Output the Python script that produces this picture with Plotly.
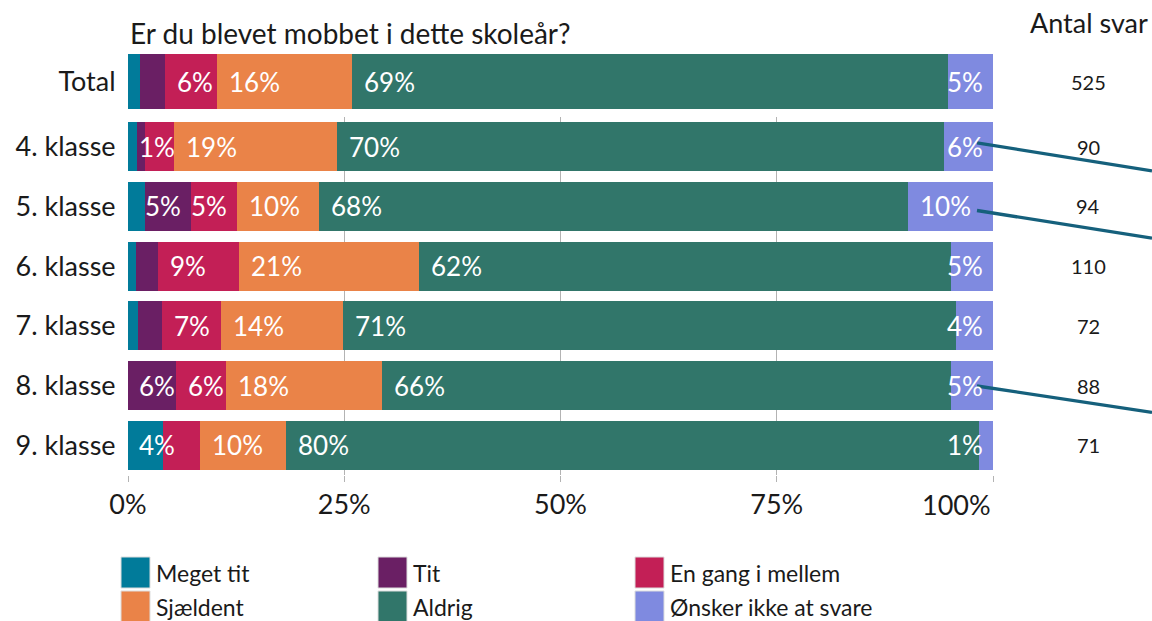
import plotly.graph_objects as go

# andele i procent, læst af figuren
categories = ["Total", "4. klasse", "5. klasse", "6. klasse", "7. klasse", "8. klasse", "9. klasse"]
meget_tit = [1.4, 1.0, 2.0, 0.9, 1.2, 0.0, 4.0]
tit = [2.9, 1.0, 5.3, 2.6, 2.7, 5.5, 0.0]
en_gang = [6.0, 3.3, 5.3, 9.3, 6.9, 5.8, 4.3]
sjaeldent = [15.6, 18.9, 9.5, 20.8, 14.1, 18.1, 10.0]
aldrig = [68.9, 70.1, 68.1, 61.6, 70.8, 65.8, 80.1]
onsker = [5.2, 5.7, 9.8, 4.8, 4.3, 4.8, 1.6]

# viste etiketter
lbl_meget_tit = ["", "", "", "", "", "", "4%"]
lbl_tit = ["", "", "5%", "", "", "6%", ""]
lbl_en_gang = ["6%", "1%", "5%", "9%", "7%", "6%", ""]
lbl_sjaeldent = ["16%", "19%", "10%", "21%", "14%", "18%", "10%"]
lbl_aldrig = ["69%", "70%", "68%", "62%", "71%", "66%", "80%"]
lbl_onsker = ["5%", "6%", "10%", "5%", "4%", "5%", "1%"]

antal_svar = [525, 90, 94, 110, 72, 88, 71]
callout_rows = ["4. klasse", "5. klasse", "8. klasse"]

x_ticks = [0, 25, 50, 75, 100]
x_ticktext = ["0%", "25%", "50%", "75%", "100%"]

series = [
    ("Meget tit", meget_tit, lbl_meget_tit, "#017b9a"),
    ("Tit", tit, lbl_tit, "#6a1f64"),
    ("En gang i mellem", en_gang, lbl_en_gang, "#c31f56"),
    ("Sjældent", sjaeldent, lbl_sjaeldent, "#ea8348"),
    ("Aldrig", aldrig, lbl_aldrig, "#31766a"),
    ("Ønsker ikke at svare", onsker, lbl_onsker, "#7f8ae0"),
]

W, H = 1152, 621
X0, X1 = 128, 993          # plot area in px
Y2_TOP, Y2_BOT = 117, 475  # klasse-panel in px
PX = (X1 - X0) / 100.0     # px per procentpoint
FONT = "Lato"
LBL_SIZE = 26
DARK = "#1a1a1a"

fig = go.Figure()

for name, vals, _, color in series:
    for sub, rows in (("", [0]), ("2", range(1, len(categories)))):
        fig.add_trace(go.Bar(
            y=[categories[i] for i in rows], x=[vals[i] for i in rows],
            orientation="h", name=name, marker_color=color, marker_line_width=0,
            xaxis="x" + sub, yaxis="y" + sub, showlegend=False, hoverinfo="skip",
        ))


def text_w(s):
    return 15.5 * (len(s) - 1) + 22


annotations = []
starts = [0.0] * len(categories)
for name, vals, labels, color in series:
    for i, cat in enumerate(categories):
        start, end = starts[i], starts[i] + vals[i]
        starts[i] = end
        end = min(round(end, 6), 100)
        lab = labels[i]
        if not lab:
            continue
        w = text_w(lab)
        s_px, e_px = start * PX, end * PX
        ref = "" if i == 0 else "2"
        a = dict(y=cat, xref="x" + ref, yref="y" + ref, yanchor="middle", text=lab,
                 showarrow=False, font=dict(family=FONT, size=LBL_SIZE, color="white"))
        if s_px + 10 + w <= e_px - 2:
            a.update(x=start, xanchor="left", xshift=10)
        elif e_px - 8 - w >= 8:
            a.update(x=end, xanchor="right", xshift=-8)
        else:
            a.update(x=0, xanchor="left", xshift=9)
        annotations.append(a)

# antal svar
annotations.append(dict(x=1089 / W, y=1 - 23 / H, xref="paper", yref="paper",
                        xanchor="center", yanchor="middle", text="Antal svar",
                        showarrow=False, font=dict(family=FONT, size=27, color=DARK)))
for i, cat in enumerate(categories):
    ref = "" if i == 0 else "2"
    annotations.append(dict(x=1088 / W, y=cat, xref="paper", yref="y" + ref,
                            xanchor="center", yanchor="middle", text=str(antal_svar[i]),
                            showarrow=False, font=dict(family=FONT, size=20, color=DARK)))

# titel
annotations.append(dict(x=X0 / W, y=1 - 33 / H, xref="paper", yref="paper",
                        xanchor="left", yanchor="middle",
                        text="Er du blevet mobbet i dette skoleår?",
                        showarrow=False, font=dict(family=FONT, size=28, color=DARK)))

# 100% tick label, right aligned at axis end
annotations.append(dict(x=100, y=1 - 505 / H, xref="x2", yref="paper", xanchor="right",
                        yanchor="middle", text=x_ticktext[-1], showarrow=False,
                        font=dict(family=FONT, size=27, color=DARK)))

# streger ud mod højre (fra etiketten og ud over kanten)
row_h = (Y2_BOT - Y2_TOP) / (len(categories) - 1)
for cat, off, dy in zip(callout_rows, [-4, 4, 0.5], [28, 27.6, 26.3]):
    yc = Y2_TOP + (categories.index(cat) - 0.5) * row_h + off
    fig.add_shape(type="line", xref="paper", yref="paper",
                  x0=(X1 - 16) / W, y0=1 - yc / H, x1=1.0, y1=1 - (yc + dy) / H,
                  line=dict(color="#15607c", width=3.3))

# forklaring
for k, (name, _, _, color) in enumerate(series):
    col, row = k % 3, k // 3
    lx = 121 + col * 257
    ly = 557 + row * 34
    fig.add_shape(type="rect", xref="paper", yref="paper",
                  x0=lx / W, x1=(lx + 29) / W, y0=1 - ly / H, y1=1 - (ly + 31) / H,
                  fillcolor=color, line=dict(color="#dddddd", width=1))
    annotations.append(dict(x=(lx + 33) / W, y=1 - (ly + 16) / H, xref="paper", yref="paper",
                            xanchor="left", yanchor="middle", text=name, showarrow=False,
                            font=dict(family=FONT, size=23, color=DARK)))

fig.update_layout(
    width=W, height=H, barmode="stack", bargap=0.178,
    margin=dict(l=0, r=0, t=0, b=0, autoexpand=False),
    plot_bgcolor="white", paper_bgcolor="white",
    font=dict(family=FONT, color=DARK),
    annotations=annotations,
    xaxis=dict(domain=[X0 / W, X1 / W], range=[0, 100], anchor="y", automargin=False,
               showgrid=False, showticklabels=False, zeroline=False, fixedrange=True),
    yaxis=dict(domain=[1 - 115 / H, 1 - 48 / H], anchor="x", automargin=False,
               tickfont=dict(family=FONT, size=27, color=DARK),
               ticks="outside", ticklen=6, tickcolor="white", showgrid=False),
    xaxis2=dict(domain=[X0 / W, X1 / W], range=[0, 100], anchor="y2", automargin=False,
                tickvals=x_ticks, ticktext=x_ticktext[:-1] + [""],
                tickfont=dict(family=FONT, size=27, color=DARK),
                showgrid=True, gridcolor="#b3b3b3", gridwidth=1, zeroline=False,
                ticks="outside", ticklen=6, tickcolor="#b3b3b3"),
    yaxis2=dict(domain=[1 - Y2_BOT / H, 1 - Y2_TOP / H], anchor="x2", autorange="reversed",
                automargin=False, tickfont=dict(family=FONT, size=27, color=DARK),
                ticks="outside", ticklen=6, tickcolor="white", showgrid=False),
)

# standard body-margen i browseren flytter figuren 8 px
fig.write_html("out.html", config={"displayModeBar": False},
               post_script="document.body.style.margin = '0';")
